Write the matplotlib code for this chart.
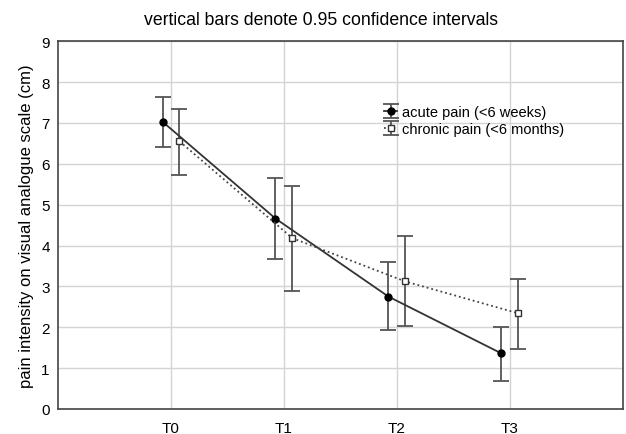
import numpy as np
import matplotlib.pyplot as plt

plt.rcParams['font.family'] = ['Liberation Sans', 'DejaVu Sans']

times = ['T0', 'T1', 'T2', 'T3']

acute_mean = [7.03, 4.66, 2.75, 1.36]
acute_hi = [7.64, 5.65, 3.59, 2.01]
acute_lo = [6.40, 3.68, 1.93, 0.68]

chronic_mean = [6.55, 4.18, 3.12, 2.34]
chronic_hi = [7.34, 5.45, 4.24, 3.19]
chronic_lo = [5.73, 2.89, 2.04, 1.48]

x = np.arange(len(times))
off = 0.075

fig = plt.figure(figsize=(6.26, 4.35), dpi=100)
ax = fig.add_axes([0.0927, 0.0575, 0.9023, 0.8455])

ax.grid(True, color='#d4d4d4', linewidth=1.0)
ax.set_axisbelow(True)

err_a = [np.array(acute_mean) - acute_lo, np.array(acute_hi) - acute_mean]
err_c = [np.array(chronic_mean) - chronic_lo, np.array(chronic_hi) - chronic_mean]

ea = ax.errorbar(x - off, acute_mean, yerr=err_a, fmt='-o', color='#333333',
                 linewidth=1.3, markersize=5, markerfacecolor='black',
                 markeredgecolor='black', ecolor='#555555', elinewidth=1.3,
                 capsize=6, capthick=1.3, zorder=3)
ec = ax.errorbar(x + off, chronic_mean, yerr=err_c, fmt=':s', color='#444444',
                 linewidth=1.3, markersize=5, markerfacecolor='white',
                 markeredgecolor='#333333', ecolor='#555555', elinewidth=1.3,
                 capsize=6, capthick=1.3, zorder=3)

ax.set_xlim(-1, 4)
ax.set_ylim(0, 9)
ax.set_xticks(x)
ax.set_xticklabels(times)
ax.set_yticks(range(10))
ax.tick_params(axis='both', labelsize=11, length=0, pad=6)
ax.tick_params(axis='x', pad=9)
for s in ax.spines.values():
    s.set_color('#444444')
    s.set_linewidth(1.2)

ax.set_ylabel('pain intensity on visual analogue scale (cm)', fontsize=12, labelpad=5)

fig.text(0.513, 0.954, 'vertical bars denote 0.95 confidence intervals',
         ha='center', va='center', fontsize=12.7)

fig.legend([ea, ec], ['acute pain (<6 weeks)', 'chronic pain (<6 months)'],
           loc='upper left', bbox_to_anchor=(384 / 626, 1 - 106 / 435),
           frameon=False, fontsize=10.5, handlelength=0.9, handletextpad=0.3,
           labelspacing=0.22, borderaxespad=0, borderpad=0)

fig.savefig('out.png', dpi=100)
